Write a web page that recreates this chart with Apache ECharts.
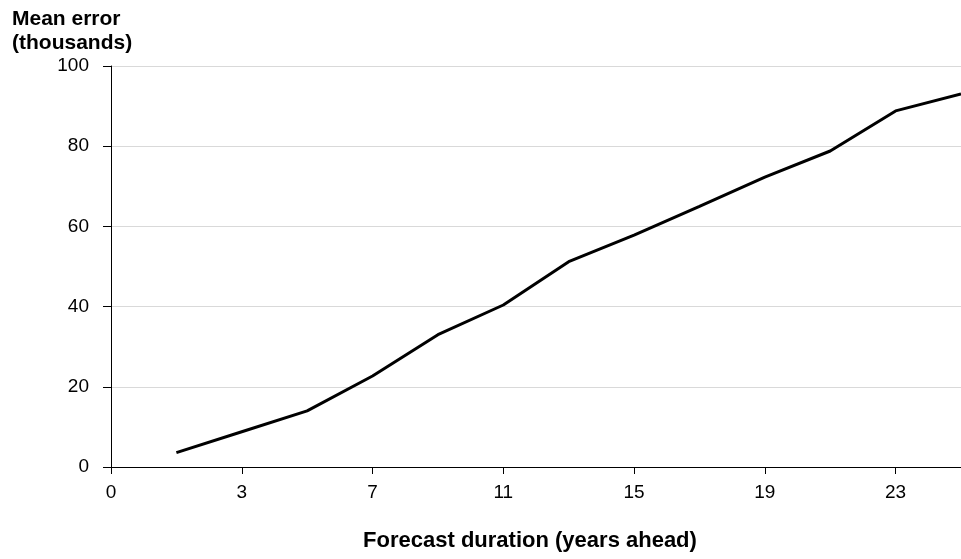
<!DOCTYPE html>
<html>
<head>
<meta charset="utf-8">
<script src="https://cdn.jsdelivr.net/npm/echarts@6/dist/echarts.min.js"></script>
<style>html,body{margin:0;padding:0;background:#fff}#c{width:961px;height:559px}</style>
</head>
<body>
<div id="c"></div>
<script>
// Categories: forecast duration (years ahead)
var categories = ['0','1','3','5','7','9','11','13','15','17','19','21','23','25'];
// Mean error (thousands); no value at 0
var meanError = [null, 3.6, 8.8, 14.0, 22.7, 33.0, 40.4, 51.2, 57.8, 65.0, 72.3, 78.8, 88.8, 93.0];
var yTicks = [0, 20, 40, 60, 80, 100];
var yTitle = 'Mean error\n(thousands)';
var xTitle = 'Forecast duration (years ahead)';

var chart = echarts.init(document.getElementById('c'), null, {renderer: 'canvas'});
var font = 'Liberation Sans, Arial, sans-serif';
chart.setOption({
  animation: false,
  backgroundColor: '#ffffff',
  title: {
    text: yTitle,
    left: 12, top: 7, padding: 0,
    textStyle: {fontFamily: font, fontSize: 21, fontWeight: 'bold', color: '#000', lineHeight: 24}
  },
  grid: {left: 111, right: -8, top: 66, bottom: 92, containLabel: false},
  xAxis: {
    type: 'category',
    data: categories,
    boundaryGap: false,
    name: xTitle,
    nameLocation: 'middle',
    nameGap: 63,
    nameTextStyle: {fontFamily: font, fontSize: 22, fontWeight: 'bold', color: '#000', padding: [0, 12, 0, 0]},
    axisLine: {lineStyle: {color: '#000', width: 1}},
    axisTick: {show: true, length: 7, interval: function(i){return i % 2 === 0;}, lineStyle: {color: '#000'}},
    axisLabel: {interval: function(i){return i % 2 === 0;}, fontFamily: font, fontSize: 19, color: '#000', margin: 16},
    splitLine: {show: false}
  },
  yAxis: {
    type: 'value',
    min: yTicks[0], max: yTicks[yTicks.length-1], interval: 20,
    axisLine: {show: true, lineStyle: {color: '#000', width: 1}},
    axisTick: {show: true, length: 8, lineStyle: {color: '#000'}},
    axisLabel: {fontFamily: font, fontSize: 19, color: '#000', margin: 22},
    splitLine: {show: true, lineStyle: {color: '#d9d9d9', width: 1}}
  },
  series: [{
    type: 'line',
    data: meanError,
    symbol: 'none',
    connectNulls: false,
    lineStyle: {color: '#000', width: 3},
    clip: false
  }]
});
</script>
</body>
</html>
